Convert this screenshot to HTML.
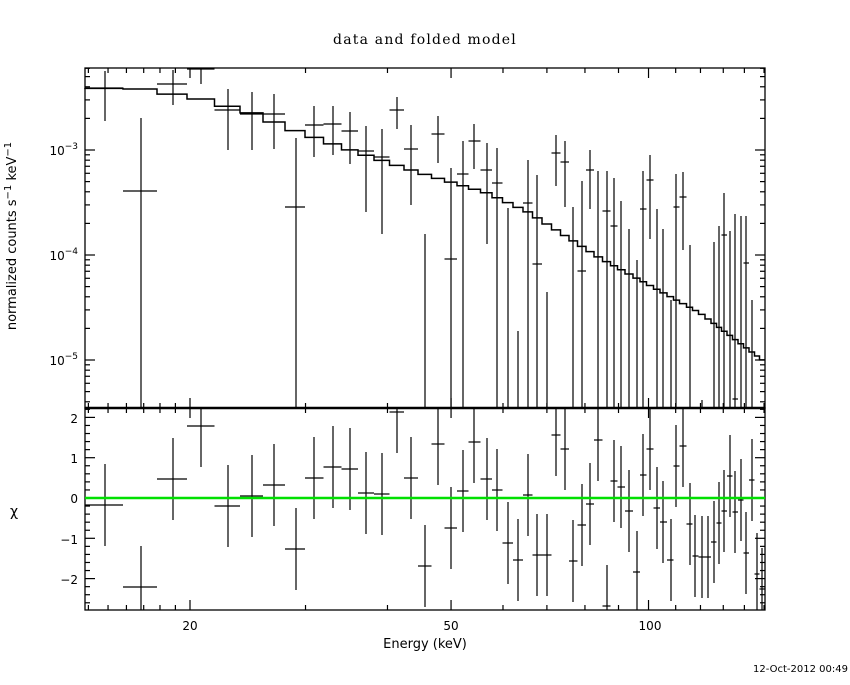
<!DOCTYPE html>
<html><head><meta charset="utf-8"><style>
body{margin:0;background:#fff;}
svg text{font-family:"DejaVu Sans","Liberation Sans",sans-serif;fill:#000;}
</style></head><body>
<svg id="s" width="850" height="680" xmlns="http://www.w3.org/2000/svg">
<text x="425" y="44" font-size="14" text-anchor="middle" letter-spacing="1.2" style="font-family:'DejaVu Serif','Liberation Serif',serif">data and folded model</text>
<text x="425" y="648" font-size="13" text-anchor="middle">Energy (keV)</text>
<text x="848" y="672" font-size="10" text-anchor="end">12-Oct-2012 00:49</text>
<text transform="translate(16,236) rotate(-90)" font-size="13" text-anchor="middle">normalized counts s<tspan dy="-5" font-size="10">−1</tspan><tspan dy="5"> keV</tspan><tspan dy="-5" font-size="10">−1</tspan></text>
<text x="14" y="516" font-size="14" text-anchor="middle">χ</text>
<text x="78" y="155" font-size="12" text-anchor="end">10<tspan dy="-6" font-size="9">−3</tspan></text>
<text x="78" y="260" font-size="12" text-anchor="end">10<tspan dy="-6" font-size="9">−4</tspan></text>
<text x="78" y="365" font-size="12" text-anchor="end">10<tspan dy="-6" font-size="9">−5</tspan></text>
<text x="78" y="423" font-size="12" text-anchor="end">2</text>
<text x="78" y="463" font-size="12" text-anchor="end">1</text>
<text x="78" y="503" font-size="12" text-anchor="end">0</text>
<text x="78" y="544" font-size="12" text-anchor="end">−1</text>
<text x="78" y="584" font-size="12" text-anchor="end">−2</text>
<text x="190" y="630" font-size="12" text-anchor="middle">20</text>
<text x="451" y="630" font-size="12" text-anchor="middle">50</text>
<text x="650" y="630" font-size="12" text-anchor="middle">100</text>
<g id="g" stroke="#000" fill="none" stroke-width="1.2"></g>
</svg>
<script>
var g=document.getElementById('g'),o='';
function L(a,b,c,d,w,col){o+='<line x1="'+a+'" y1="'+b+'" x2="'+c+'" y2="'+d+'"'+(w?' stroke-width="'+w+'"':'')+(col?' stroke="'+col+'"':'')+'/>';}
var X=function(E){return 190+656*Math.log10(E/20);};
o+='<rect x="85" y="68" width="680" height="340" stroke-width="1.3"/>';
o+='<rect x="85" y="408" width="680" height="202" stroke-width="1.3"/>';
L(85,408,765,408,2.5);
var xs=[14,15,16,17,18,19,20,30,40,50,60,70,80,90,100,110,120,130,140,150];
xs.forEach(function(E){var x=X(E);if(x<85||x>765)return;var m=(E==20||E==50||E==100);var l=m?10:5;
[68,408].forEach(function(y){L(x,y,x,y+l);});[408,610].forEach(function(y){L(x,y,x,y-l);});});
for(var d=-6;d<=-3;d++){for(var k=1;k<10;k++){var y=150-105*(Math.log10(k)+d+3);if(y<68||y>408)continue;var l=k==1?10:5;L(85,y,85+l,y);L(765,y,765-l,y);}}
for(var v=-2.6;v<=2.2;v+=0.2){var vv=Math.round(v*10)/10;var y=498-40.3*vv;if(y<408||y>610)continue;var l=Math.abs(vv-Math.round(vv))<0.01?10:5;L(85,y,85+l,y);L(765,y,765-l,y);}
var T=[[105,88,71,121],[141,191,118,408],[173,84,70,105],[201,69,68,84],[228,110,89,150],[252,114,92,150],[274,114,94,149],[296,207,138,408],[314,125,106,157],[333,124,106,155],[350,131,112,164],[366,151,126,212],[382,157,129,234],[397,110,97,129],[411,149,125,205],
[425,null,234,408],[438,134,116,163],[451,259,168,408],[463,174,141,408],[474,141,124,169],[487,170,143,244],[497,183,148,408],[508,null,208,408],[518,null,331,408],[528,203,160,408],[537,264,175,408],[547,null,292,408],[556,153,135,186],[565,162,141,207],[573,null,207,408],[582,271,181,408],[590,170,150,209],[598,null,171,408],[607,211,171,408],[614,226,178,408],[621,null,201,408],[629,null,229,408],[637,null,260,408],[643,209,171,408],[650,180,155,239],[657,null,209,408],[663,null,229,408],[671,null,300,408],[676,207,174,408],[683,197,172,250],[690,null,245,408],[702,null,400,408],[714,null,242,408],[719,null,226,408],[724,235,193,408],[730,null,231,408],[735,399,214,408],[741,null,216,408],[746,263,216,408],[752,null,300,408]];
var R=[[105,505],[141,587],[173,479],[201,426],[228,506],[252,496],[274,485],[296,549],[314,478],[333,467],[350,469],[366,493],[382,494],[397,412],[411,478],[425,566],[438,444],[451,528],[463,491],[474,442],[487,479],[497,490],[508,543],[518,560],[528,495],[537,555],[547,555],[556,435],[565,449],[573,561],[582,525],[590,504],[598,440],[607,606],[614,481],[621,487],[629,511],[637,572],[643,475],[650,449],[657,508],[663,522],[671,560],[676,466],[683,446],[690,524],[695,556],[702,557],[708,557],[714,542],[719,523],[724,511],[730,476],[735,512],[741,500],[746,553],[752,480],[757,574],[762,589]];
function edges(arr){var e=[];for(var i=0;i<arr.length;i++){var a=i==0?85:(arr[i-1][0]+arr[i][0])/2;var b=i==arr.length-1?765:(arr[i][0]+arr[i+1][0])/2;e.push([a,b]);}return e;}
var eT=edges(T);
T.forEach(function(p,i){L(p[0],p[2],p[0],p[3]);if(p[1]!==null&&p[1]<408)L(eT[i][0],p[1],eT[i][1],p[1]);});
var eR=edges(R);
R.forEach(function(p,i){var y=p[1];L(p[0],Math.max(408,y-41),p[0],Math.min(610,y+41));if(y<=610)L(eR[i][0],y,eR[i][1],y);});
var M=[[85,88],[141,89],[201,99],[252,113],[296,131],[350,150],[420,173],[487,193],[528,212],[600,258],[700,313],[765,362]];
function my(x){for(var i=0;i<M.length-1;i++){if(x<=M[i+1][0]){var t=(x-M[i][0])/(M[i+1][0]-M[i][0]);return M[i][1]+t*(M[i+1][1]-M[i][1]);}}return 362;}
var ed=[85];R.forEach(function(p,i){ed.push(eR[i][1]);});
var d='M85 '+my(85);
for(var i=0;i<ed.length-1;i++){var yy=my((ed[i]+ed[i+1])/2);d+=' L'+ed[i]+' '+yy+' L'+ed[i+1]+' '+yy;}
o+='<path d="'+d+'" stroke-width="1.5"/>';
L(85,498,765,498,2.5,'#00e000');
g.innerHTML=o;
</script>
</body></html>
